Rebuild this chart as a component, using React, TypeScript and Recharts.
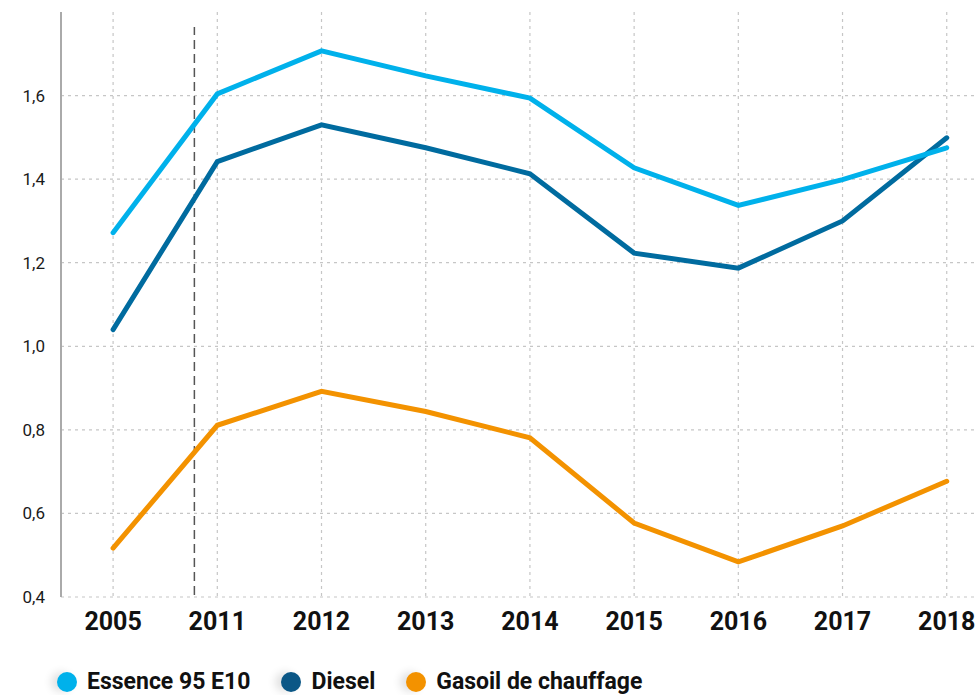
import React from "react";
import { LineChart, Line, XAxis, YAxis, CartesianGrid, ReferenceLine } from "recharts";

const years = ["2005", "2011", "2012", "2013", "2014", "2015", "2016", "2017", "2018"];
const essence = [1.272, 1.604, 1.707, 1.647, 1.594, 1.427, 1.337, 1.399, 1.475];
const diesel = [1.04, 1.442, 1.53, 1.475, 1.413, 1.223, 1.187, 1.3, 1.499];
const gasoil = [0.517, 0.811, 0.892, 0.844, 0.781, 0.577, 0.484, 0.57, 0.677];
const yTicks = [0.4, 0.6, 0.8, 1.0, 1.2, 1.4, 1.6];
const BREAK_X = 0.78; // dashed separator between 2005 and 2011

const series = [
  { key: "gasoil", name: "Gasoil de chauffage", color: "#f39200", legend: "#f39200" },
  { key: "diesel", name: "Diesel", color: "#006b9f", legend: "#0b5786" },
  { key: "essence", name: "Essence 95 E10", color: "#00b1eb", legend: "#00b1eb" },
];

const data = years.map((y, i) => ({
  x: i,
  year: y,
  essence: essence[i],
  diesel: diesel[i],
  gasoil: gasoil[i],
}));

const xTicks = years.map((_, i) => i);
const legendOrder = [series[2], series[1], series[0]];

const FONT = "Roboto, 'DejaVu Sans', sans-serif";

export default function App() {
  return (
    <div style={{ position: "absolute", left: 0, top: 0, width: 978, height: 695, background: "#fff", fontFamily: FONT }}>
      <LineChart width={978} height={695} data={data} margin={{ top: 12, right: 0, left: 0, bottom: 55 }}>
        <CartesianGrid
          stroke="#c6c6c6"
          strokeDasharray="3 4"
          strokeWidth={1.2}
          horizontalValues={yTicks}
          verticalValues={xTicks}
        />
        <XAxis
          dataKey="x"
          type="number"
          domain={[-0.5, 8.3]}
          ticks={xTicks}
          tickFormatter={(v: number) => years[v] ?? ""}
          axisLine={false}
          tickLine={false}
          tickSize={0}
          tickMargin={15}
          height={43}
          interval={0}
          tick={{ fill: "#111", fontSize: 25, fontWeight: 700, fontFamily: FONT }}
        />
        <YAxis
          type="number"
          domain={[0.4, 1.8]}
          ticks={yTicks}
          width={61}
          tickFormatter={(v: number) => v.toFixed(1).replace(".", ",")}
          axisLine={{ stroke: "#aaaaaa", strokeWidth: 2 }}
          tickLine={false}
          tickSize={0}
          tickMargin={16}
          tick={{ fill: "#1a1a1a", fontSize: 17, fontFamily: FONT }}
        />
        <ReferenceLine
          x={BREAK_X}
          ifOverflow="visible"
          shape={(p: any) => (
            <line
              x1={p.x1}
              y1={p.y1 - 2}
              x2={p.x2}
              y2={p.y2 + 15}
              stroke="#555"
              strokeWidth={1.5}
              strokeDasharray="9 5"
            />
          )}
        />
        {series.map((s) => (
          <Line
            key={s.key}
            type="linear"
            dataKey={s.key}
            name={s.name}
            stroke={s.color}
            strokeWidth={5}
            strokeLinecap="round"
            dot={false}
            activeDot={false}
            isAnimationActive={false}
          />
        ))}
      </LineChart>
      <div
        style={{
          position: "absolute",
          left: 57,
          top: 668,
          display: "flex",
          alignItems: "center",
          height: 28,
        }}
      >
        {legendOrder.map((s) => (
          <div key={s.key} style={{ display: "flex", alignItems: "center", marginRight: 31 }}>
            <span
              style={{
                display: "inline-block",
                width: 20,
                height: 20,
                borderRadius: 10,
                background: s.legend,
                marginRight: 10,
                boxShadow: "-6px 0 8px rgba(0,0,0,0.12)",
              }}
            />
            <span style={{ fontSize: 23, fontWeight: 700, color: "#111", lineHeight: "28px" }}>{s.name}</span>
          </div>
        ))}
      </div>
    </div>
  );
}
